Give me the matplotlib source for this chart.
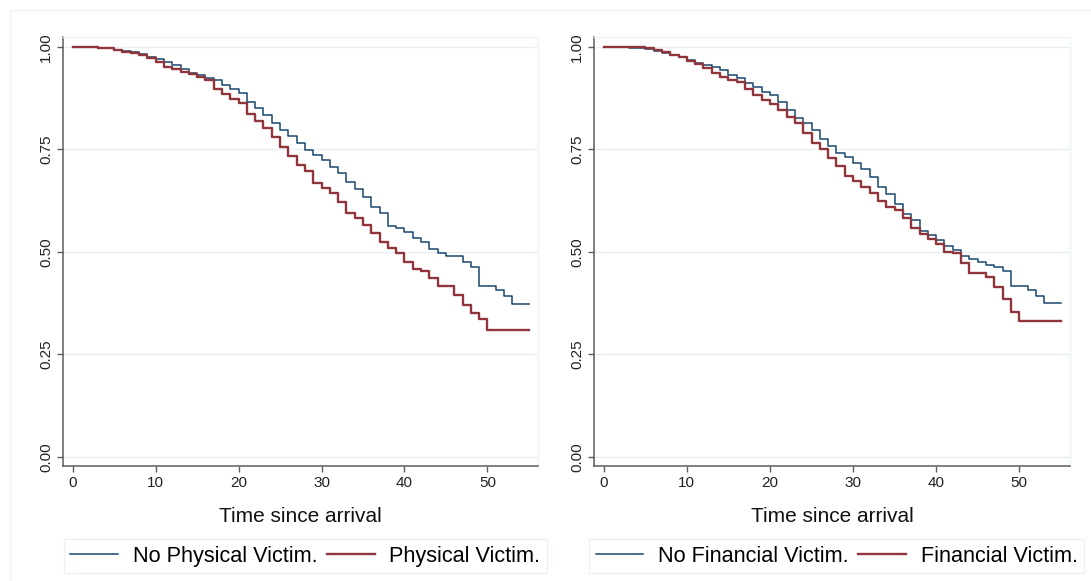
import matplotlib
matplotlib.use("Agg")
import matplotlib.pyplot as plt
from matplotlib.patches import Rectangle

plt.rcParams['font.family'] = ['Liberation Sans', 'DejaVu Sans']

# time since arrival (steps start at each value)
time = list(range(0, 56))

no_physical = [1.0, 1.0, 1.0, 0.998, 0.996, 0.993, 0.990, 0.986, 0.982, 0.976,
               0.969, 0.963, 0.955, 0.945, 0.937, 0.930, 0.924, 0.919, 0.907, 0.896,
               0.888, 0.866, 0.850, 0.833, 0.815, 0.797, 0.782, 0.764, 0.748, 0.736,
               0.724, 0.707, 0.691, 0.671, 0.652, 0.633, 0.610, 0.594, 0.563, 0.557,
               0.549, 0.533, 0.524, 0.506, 0.496, 0.489, 0.489, 0.476, 0.463, 0.416,
               0.416, 0.407, 0.392, 0.372, 0.372, 0.372]
physical = [1.0, 1.0, 1.0, 0.996, 0.996, 0.992, 0.988, 0.984, 0.980, 0.972,
            0.962, 0.951, 0.945, 0.939, 0.933, 0.927, 0.919, 0.898, 0.885, 0.872,
            0.862, 0.837, 0.820, 0.801, 0.779, 0.756, 0.733, 0.711, 0.697, 0.667,
            0.655, 0.644, 0.622, 0.594, 0.581, 0.566, 0.545, 0.524, 0.508, 0.496,
            0.476, 0.459, 0.454, 0.437, 0.416, 0.416, 0.394, 0.370, 0.350, 0.337,
            0.309, 0.309, 0.309, 0.309, 0.309, 0.309]

no_financial = [1.0, 1.0, 1.0, 0.997, 0.997, 0.994, 0.990, 0.985, 0.980, 0.974,
                0.968, 0.961, 0.955, 0.950, 0.942, 0.931, 0.923, 0.912, 0.901, 0.890,
                0.882, 0.866, 0.846, 0.825, 0.813, 0.797, 0.776, 0.758, 0.740, 0.731,
                0.717, 0.701, 0.683, 0.659, 0.641, 0.617, 0.592, 0.578, 0.550, 0.540,
                0.528, 0.513, 0.503, 0.489, 0.481, 0.474, 0.468, 0.462, 0.452, 0.417,
                0.417, 0.407, 0.393, 0.375, 0.375, 0.375]
financial = [1.0, 1.0, 1.0, 1.0, 1.0, 0.996, 0.992, 0.988, 0.980, 0.974,
             0.966, 0.959, 0.947, 0.935, 0.927, 0.919, 0.915, 0.898, 0.882, 0.870,
             0.860, 0.846, 0.828, 0.813, 0.789, 0.765, 0.751, 0.729, 0.710, 0.684,
             0.672, 0.659, 0.643, 0.623, 0.610, 0.602, 0.582, 0.557, 0.543, 0.532,
             0.520, 0.500, 0.496, 0.472, 0.449, 0.449, 0.439, 0.413, 0.384, 0.352,
             0.330, 0.330, 0.330, 0.330, 0.330, 0.330]

x_ticks = [0, 10, 20, 30, 40, 50]
y_ticks = [0.0, 0.25, 0.5, 0.75, 1.0]

navy = "#1a476f"
maroon = "#90353b"
grid_col = "#e9f0f3"
axis_col = "#5c5c5c"


def km_panel(ax, y_no, y_yes, labels):
    ax.step(time, y_no, where="post", color=navy, lw=1.1, label=labels[0], zorder=3)
    ax.step(time, y_yes, where="post", color=maroon, lw=1.7, label=labels[1], zorder=3)
    ax.set_xlim(-1.17, 56.1)
    ax.set_ylim(-0.0227, 1.0237)
    ax.set_xticks(x_ticks)
    ax.set_yticks(y_ticks)
    ax.set_yticklabels(["%.2f" % v for v in y_ticks], rotation=90, va="center")
    ax.tick_params(axis="both", labelsize=11, length=4.5, width=1, color=axis_col,
                   labelcolor="#222222")
    ax.tick_params(axis="y", pad=2.5)
    ax.tick_params(axis="x", pad=3)
    ax.grid(axis="y", color=grid_col, lw=1)
    ax.set_axisbelow(True)
    for s in ["left", "bottom"]:
        ax.spines[s].set_color(axis_col)
        ax.spines[s].set_linewidth(1.1)
    for s in ["top", "right"]:
        ax.spines[s].set_color("#eef3f5")
        ax.spines[s].set_linewidth(1)
    ax.set_xlabel("Time since arrival", fontsize=15, color="#111111", labelpad=12)
    leg = ax.legend(loc="center", bbox_to_anchor=(0.51, -0.21), ncol=2, fontsize=15.6,
                    frameon=True, fancybox=False, handlelength=2.2, handletextpad=0.68,
                    columnspacing=0.45, borderpad=0.3, borderaxespad=0)
    leg.get_frame().set_edgecolor("#e8eff2")
    leg.get_frame().set_linewidth(1)


fig = plt.figure(figsize=(10.91, 5.81), dpi=100)
fig.patches.append(Rectangle((10 / 1091, -0.1), 1.1, 1.1 - 10 / 581,
                             transform=fig.transFigure, fill=False,
                             edgecolor="#f1f3f3", lw=1))

ax1 = fig.add_axes([63 / 1091, 1 - 466 / 581, 475 / 1091, 429 / 581])
ax2 = fig.add_axes([594 / 1091, 1 - 466 / 581, 476 / 1091, 429 / 581])

km_panel(ax1, no_physical, physical, ["No Physical Victim.", "Physical Victim."])
km_panel(ax2, no_financial, financial, ["No Financial Victim.", "Financial Victim."])

plt.savefig("out.png", dpi=100)
